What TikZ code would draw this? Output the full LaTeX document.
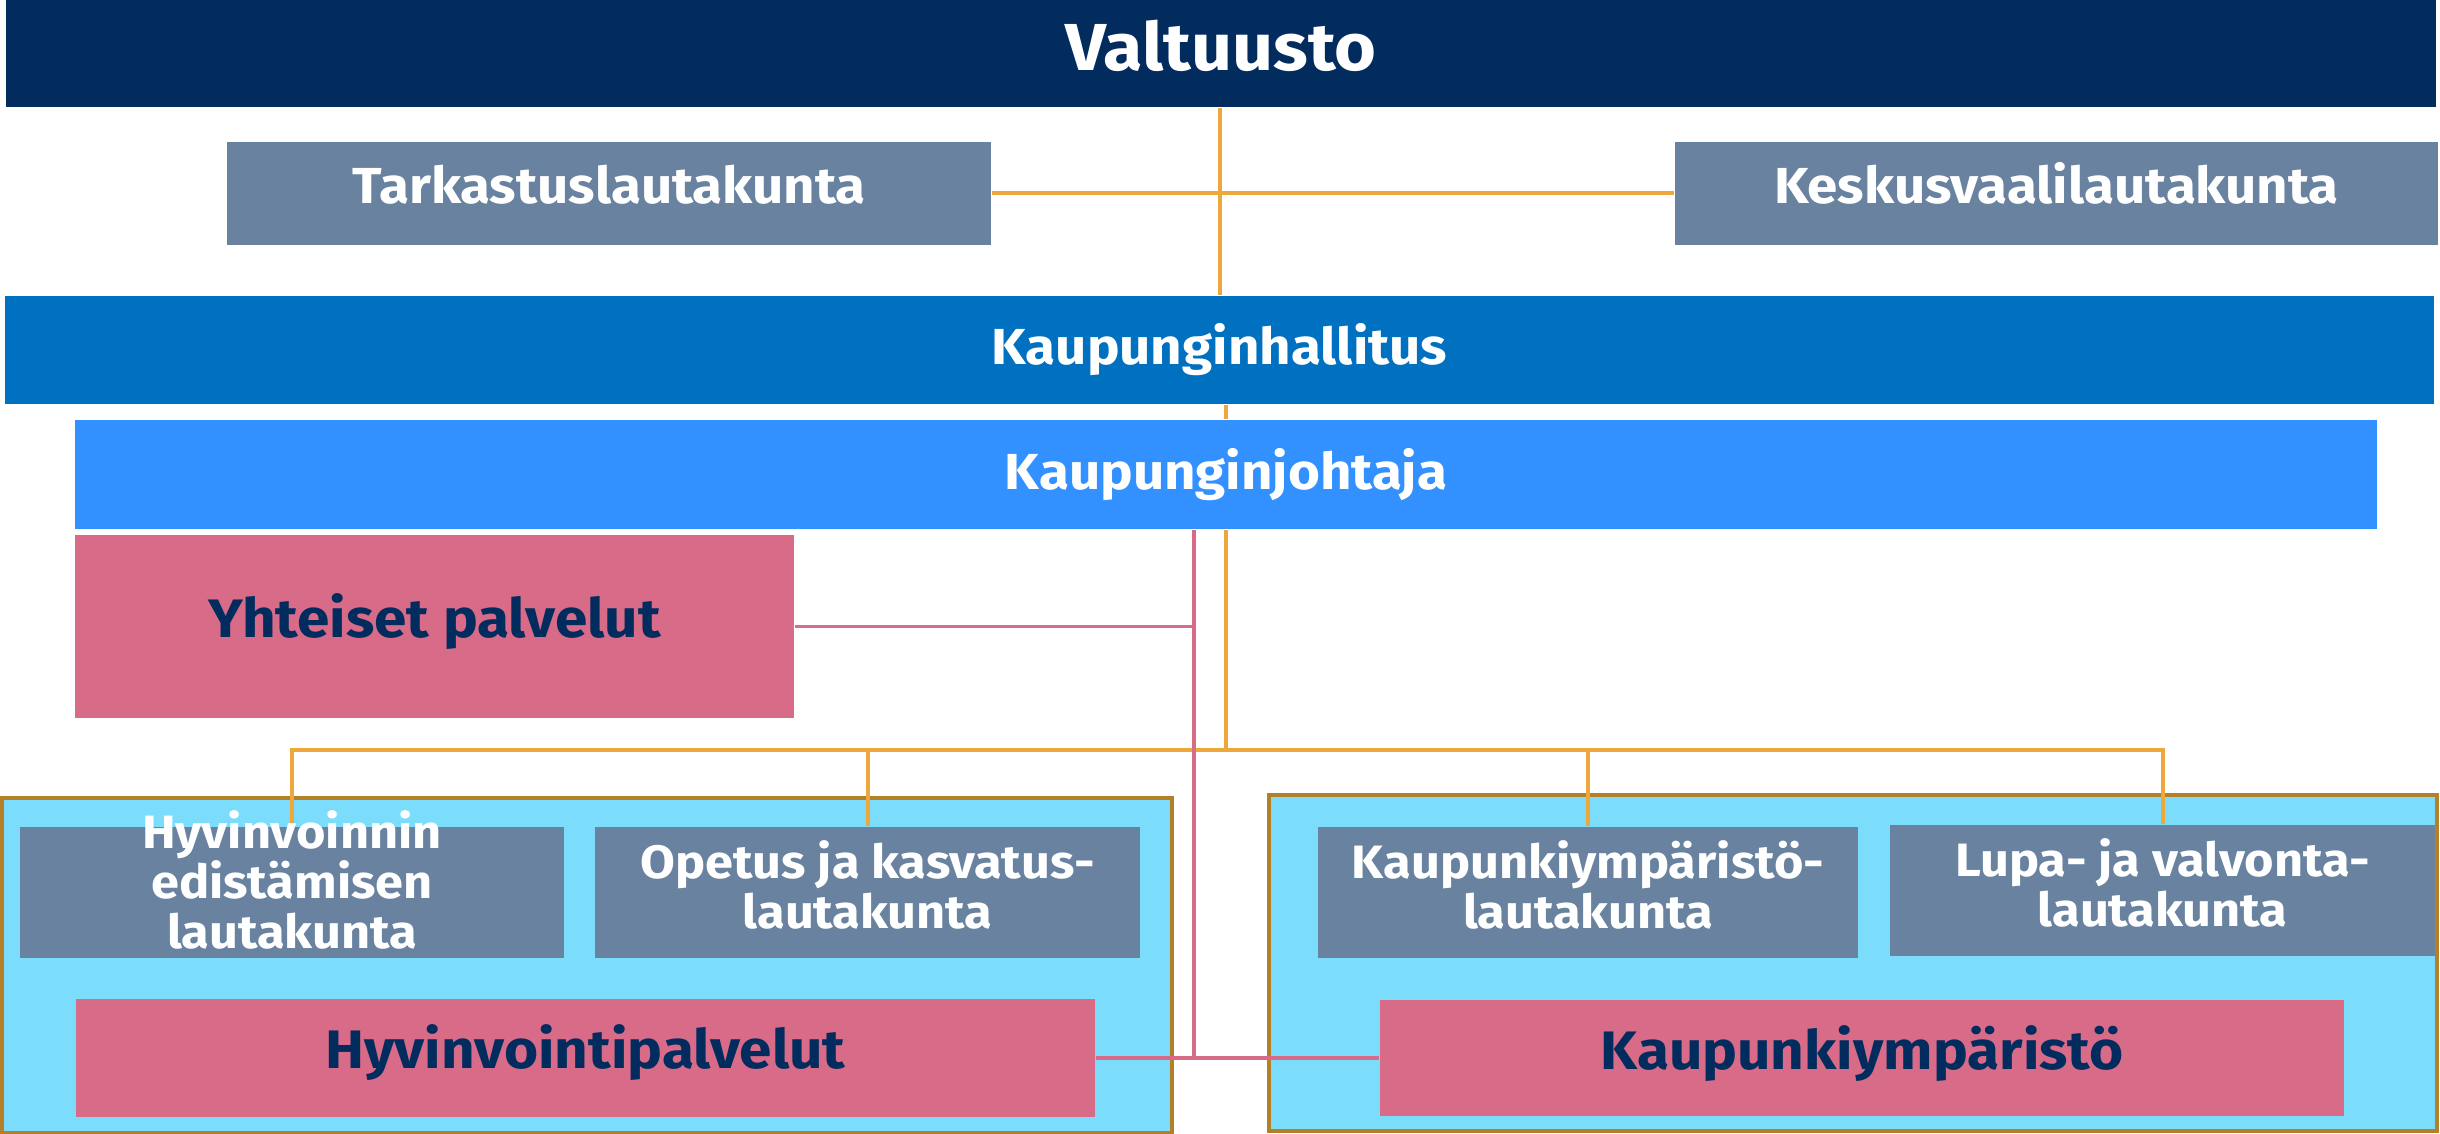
\documentclass[tikz,border=0pt]{standalone}
\usepackage{fontspec}
\setmainfont{Fira Sans}[FakeStretch=1.08]
\definecolor{navy}{HTML}{022B5E}
\definecolor{greyblue}{HTML}{6882A0}
\definecolor{khblue}{HTML}{0070C0}
\definecolor{kjblue}{HTML}{3391FF}
\definecolor{rose}{HTML}{D76B88}
\definecolor{sky}{HTML}{7BDCFC}
\definecolor{gold}{HTML}{B38028}
\definecolor{orangeline}{HTML}{EDA73A}
\pgfdeclarelayer{back}
\pgfdeclarelayer{mid}
\pgfsetlayers{back,mid,main}
\tikzset{
  base/.style={rectangle, inner sep=0pt, align=center, font=\bfseries},
  topbox/.style={base, fill=navy, text=white, font=\fontsize{18.9}{22}\bfseries\selectfont},
  mainbox/.style={base, text=white, font=\fontsize{14.4}{17}\bfseries\selectfont},
  boardbox/.style={base, fill=greyblue, text=white, text depth=4.5pt, font=\fontsize{13.3}{14.1}\bfseries\selectfont},
  unitbox/.style={base, fill=rose, text=navy, font=\fontsize{15.4}{18}\bfseries\selectfont},
  groupbox/.style={rectangle, fill=sky, draw=gold, line width=0.04cm},
  orgline/.style={draw=orangeline, line width=0.04cm},
  pinkline/.style={draw=rose, line width=0.035cm},
}
\begin{document}
\begin{tikzpicture}[x=0.01cm,y=-0.01cm]
\useasboundingbox (0,0) rectangle (2440,1134);
% group backgrounds
\begin{pgfonlayer}{back}
\node[groupbox, minimum width=11.70cm, minimum height=3.35cm] (lgroup) at (587,965.5) {};
\node[groupbox, minimum width=11.68cm, minimum height=3.36cm] (rgroup) at (1853,963) {};
\end{pgfonlayer}
% top level boxes
\node[topbox, text height=14pt, text depth=4.6pt, minimum width=24.28cm, minimum height=1.07cm] (val) at (1221,53.5) {Valtuusto};
\node[mainbox, fill=greyblue, text height=11pt, text depth=5.3pt, minimum width=7.64cm, minimum height=1.03cm] (tark) at (609,193.5) {Tarkastuslautakunta};
\node[mainbox, fill=greyblue, text height=11pt, text depth=5.3pt, minimum width=7.63cm, minimum height=1.03cm] (kesk) at (2056.5,193.5) {Keskusvaalilautakunta};
\node[mainbox, fill=khblue, text height=11pt, text depth=3pt, minimum width=24.27cm, minimum height=1.08cm] (kh) at (1219.5,350) {Kaupunginhallitus};
\node[mainbox, fill=kjblue, text height=11.5pt, text depth=2.7pt, minimum width=23.00cm, minimum height=1.09cm] (kj) at (1226,474.5) {Kaupunginjohtaja};
\node[unitbox, text height=12pt, text depth=5.8pt, minimum width=7.19cm, minimum height=1.83cm] (yht) at (434.5,626.5) {Yhteiset palvelut};
% coordinates for connectors
\coordinate (vx) at (1220,0);
\coordinate (ob) at (1226,750);
\coordinate (px) at (1194,0);
% lower boxes
\node[boardbox, text height=34.1pt, text depth=2.5pt, minimum width=5.44cm, minimum height=1.31cm] (hyv) at (292,892.5) {Hyvinvoinnin\\edistämisen\\lautakunta};
\node[boardbox, minimum width=5.45cm, minimum height=1.31cm] (ope) at (867.5,892.5) {Opetus ja kasvatus-\\lautakunta};
\node[unitbox, text height=12pt, text depth=6.3pt, minimum width=10.19cm, minimum height=1.18cm] (hpal) at (585.5,1058) {Hyvinvointipalvelut};
\node[boardbox, minimum width=5.40cm, minimum height=1.31cm] (kyl) at (1588,892.5) {Kaupunkiympäristö-\\lautakunta};
\node[boardbox, minimum width=5.45cm, minimum height=1.31cm] (lupa) at (2162.5,890.5) {Lupa- ja valvonta-\\lautakunta};
\node[unitbox, text height=12pt, text depth=5.2pt, minimum width=9.64cm, minimum height=1.16cm] (kym) at (1862,1058) {Kaupunkiympäristö};
\begin{pgfonlayer}{mid}
% orange connectors
\draw[orgline] (val.south -| vx) -- (kh.north -| vx);
\draw[orgline] (tark.east) -- (kesk.west);
\draw[orgline] (kh.south -| kj.north) -- (kj.north);
\draw[orgline] (kj.south -| ob) -- (ob);
\draw[orgline] (hyv.north) |- (ob) -| (lupa.north);
\draw[orgline] (ope.north) -- (ope.north |- ob);
\draw[orgline] (kyl.north) -- (kyl.north |- ob);
% pink connectors
\draw[pinkline] (kj.south -| px) -- (px |- hpal.east);
\draw[pinkline] (yht.east) -- (yht.east -| px);
\draw[pinkline] (hpal.east) -- (kym.west);
\end{pgfonlayer}
\end{tikzpicture}
\end{document}
